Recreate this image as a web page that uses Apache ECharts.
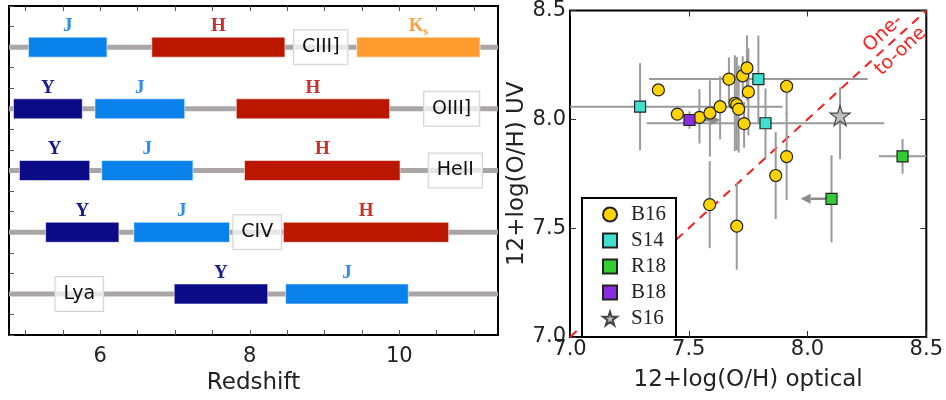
<!DOCTYPE html>
<html>
<head>
<meta charset="utf-8">
<script src="https://cdn.jsdelivr.net/npm/echarts@6/dist/echarts.min.js"></script>
<style>
  html, body { margin: 0; background: #fff; }
  #chart { width: 946px; height: 400px; }
</style>
</head>
<body>
<div id="chart"></div>
<script>
  // ---- left panel: redshift coverage of each line per filter ----
  const lineNames = ['CIII]', 'OIII]', 'HeII', 'CIV', 'Lya'];
  const lineLabelZ = [8.95, 10.7, 10.75, 8.1, 5.72];
  const filterNames = ['Y', 'J', 'H', 'Ks'];
  // [line index, filter index, z start, z end]
  const coverage = [
    [0, 1, 5.04, 6.09], [0, 2, 6.69, 8.47], [0, 3, 9.43, 11.08],
    [1, 0, 4.84, 5.76], [1, 1, 5.93, 7.13], [1, 2, 7.82, 9.87],
    [2, 0, 4.92, 5.86], [2, 1, 6.02, 7.24], [2, 2, 7.93, 10.01],
    [3, 0, 5.27, 6.25], [3, 1, 6.45, 7.73], [3, 2, 8.45, 10.66],
    [4, 0, 6.99, 8.24], [4, 1, 8.48, 10.12]
  ];
  const zTicks = [5, 5.5, 6, 6.5, 7, 7.5, 8, 8.5, 9, 9.5, 10, 10.5, 11];
  const zLabels = [6, 8, 10];

  // ---- right panel: UV vs optical metallicity ----
  const b16X = [7.372, 7.452, 7.545, 7.589, 7.632, 7.669, 7.694, 7.702, 7.710, 7.727, 7.745, 7.751, 7.733, 7.912, 7.912, 7.866, 7.588, 7.702];
  const b16Y = [8.135, 8.024, 8.009, 8.029, 8.058, 8.185, 8.074, 8.067, 8.047, 8.200, 8.236, 8.126, 7.980, 8.152, 7.829, 7.742, 7.608, 7.509];
  const b16YLo = [0, 0, 0.12, 0.2, 0.15, 0.1, 0.22, 0.21, 0.2, 0.1, 0.15, 0.2, 0.11, 0.13, 0.2, 0.2, 0.2, 0.2];
  const b16YHi = [0, 0, 0.13, 0.15, 0.14, 0.1, 0.22, 0.22, 0.2, 0.09, 0.15, 0.2, 0.1, 0.03, 0.2, 0.2, 0.2, 0.2];

  const s14X = [7.295, 7.793, 7.823];
  const s14Y = [8.058, 8.185, 7.982];
  const s14XErr = [0.6, 0.46, 0.5];
  const s14YErr = [0.2, 0.2, 0.16];

  const r18X = [8.40, 8.101];
  const r18Y = [7.830, 7.635];
  const r18XErr = [0.1, 0];
  const r18YErr = [0.08, 0.2];
  const r18Limit = [0, -0.13];

  const b18X = [7.503];
  const b18Y = [7.997];
  const b18YErr = [0.04];
  const b18Limit = [0.13];

  const s16X = [8.137];
  const s16Y = [8.017];
  const s16YLo = [0.2];
  const s16YHi = [0.13];

  const oneToOne = [7.0, 8.5];
  const noteText = ['One-', 'to-one'];
  const noteX = [8.318, 8.392];
  const noteY = [8.394, 8.312];

  const FONT = 'DejaVu Sans';
  const SERIF = 'Liberation Serif';
  const filterColors = ['#0b0b88', '#0a82ec', '#ba1600', '#ff9c2e'];
  const labelColors = ['#1a1a90', '#2a8ef0', '#c8302a', '#ffa040'];
  const errColor = '#9a9a9a';
  const starPath = 'path://M50,2 L61,37 L98,37 L68,59 L79,95 L50,73 L21,95 L32,59 L2,37 L39,37 Z';

  const rowY = i => (lineNames.length - i) * 3;

  // error bar rows: [x, y, xlo, xhi, ylo, yhi]
  const errRows = [];
  b16X.forEach((x, i) => errRows.push([x, b16Y[i], 0, 0, b16YLo[i], b16YHi[i]]));
  s14X.forEach((x, i) => errRows.push([x, s14Y[i], s14XErr[i], s14XErr[i], s14YErr[i], s14YErr[i]]));
  r18X.forEach((x, i) => errRows.push([x, r18Y[i], r18XErr[i], r18XErr[i], r18YErr[i], r18YErr[i]]));
  b18X.forEach((x, i) => errRows.push([x, b18Y[i], 0, 0, b18YErr[i], b18YErr[i]]));
  s16X.forEach((x, i) => errRows.push([x, s16Y[i], 0, 0, s16YLo[i], s16YHi[i]]));

  const arrowRows = [];
  r18X.forEach((x, i) => { if (r18Limit[i]) arrowRows.push([x, r18Y[i], r18Limit[i]]); });
  b18X.forEach((x, i) => { if (b18Limit[i]) arrowRows.push([x, b18Y[i], b18Limit[i]]); });

  const clamp = (v, lo, hi) => Math.min(Math.max(v, lo), hi);

  const chart = echarts.init(document.getElementById('chart'));

  chart.setOption({
    animation: false,
    textStyle: { fontFamily: FONT },
    grid: [
      { left: 9, top: 6, width: 489, height: 332, show: true, borderColor: '#000', borderWidth: 2, backgroundColor: 'transparent' },
      { left: 570, top: 7, width: 375, height: 330, show: true, borderColor: '#000', borderWidth: 2, backgroundColor: 'transparent' }
    ],
    xAxis: [
      {
        gridIndex: 0, type: 'value', min: 4.78, max: 11.32,
        name: 'Redshift', nameLocation: 'middle', nameGap: 34,
        nameTextStyle: { fontSize: 23, color: '#222', fontFamily: FONT },
        axisLine: { show: false },
        axisTick: { inside: true, length: 5, customValues: zTicks, lineStyle: { color: '#555' } },
        axisLabel: { customValues: zLabels, fontSize: 21, color: '#222', margin: 11 },
        splitLine: { show: false }
      },
      {
        gridIndex: 0, type: 'value', min: 4.78, max: 11.32, position: 'top',
        axisLine: { show: false },
        axisTick: { inside: true, length: 5, customValues: zTicks, lineStyle: { color: '#555' } },
        axisLabel: { show: false }, splitLine: { show: false }
      },
      {
        gridIndex: 1, type: 'value', min: 7, max: 8.5, interval: 0.5,
        name: '12+log(O/H) optical', nameLocation: 'middle', nameGap: 32,
        nameTextStyle: { fontSize: 23, color: '#222', fontFamily: FONT },
        axisLine: { show: false },
        axisTick: { inside: true, length: 6, lineStyle: { color: '#333' } },
        axisLabel: { fontSize: 21, color: '#222', margin: 2, formatter: v => v.toFixed(1) },
        splitLine: { show: false }
      },
      {
        gridIndex: 1, type: 'value', min: 7, max: 8.5, interval: 0.5, position: 'top',
        axisLine: { show: false },
        axisTick: { inside: true, length: 6, lineStyle: { color: '#333' } },
        axisLabel: { show: false }, splitLine: { show: false }
      }
    ],
    yAxis: [
      {
        gridIndex: 0, type: 'value', min: 1, max: 17, interval: 1,
        axisLine: { show: false },
        axisTick: { inside: true, length: 5, lineStyle: { color: '#555' } },
        axisLabel: { show: false }, splitLine: { show: false }
      },
      {
        gridIndex: 1, type: 'value', min: 7, max: 8.5, interval: 0.5,
        name: '12+log(O/H) UV', nameLocation: 'middle', nameGap: 29, nameRotate: 90,
        nameTextStyle: { fontSize: 23, color: '#222', fontFamily: FONT },
        axisLine: { show: false },
        axisTick: { inside: true, length: 6, lineStyle: { color: '#333' } },
        axisLabel: { fontSize: 21, color: '#222', margin: 4, formatter: v => v.toFixed(1) },
        splitLine: { show: false }
      },
      {
        gridIndex: 1, type: 'value', min: 7, max: 8.5, interval: 0.5, position: 'right',
        axisLine: { show: false },
        axisTick: { inside: true, length: 6, lineStyle: { color: '#333' } },
        axisLabel: { show: false }, splitLine: { show: false }
      }
    ],
    legend: {
      data: ['B16', 'S14', 'R18', 'B18', 'S16'],
      orient: 'vertical', left: 582, top: 198,
      padding: [6, 10, 8, 20], itemGap: 5, itemWidth: 14, itemHeight: 14,
      backgroundColor: '#fff', borderColor: '#000', borderWidth: 2, borderRadius: 0,
      textStyle: { fontFamily: SERIF, fontSize: 21, color: '#222', lineHeight: 20, padding: [0, 0, 0, 9] }
    },
    series: [
      // grey line for each emission line
      {
        type: 'custom', xAxisIndex: 0, yAxisIndex: 0, z: 1, silent: true,
        data: lineNames.map((n, i) => [i]),
        renderItem: (params, api) => {
          const cs = params.coordSys;
          const y = api.coord([5, rowY(api.value(0))])[1];
          return { type: 'line', shape: { x1: cs.x, y1: y, x2: cs.x + cs.width, y2: y }, style: { stroke: '#aaa6a6', lineWidth: 5 } };
        }
      },
      // filter coverage bars
      {
        type: 'custom', xAxisIndex: 0, yAxisIndex: 0, z: 2, silent: true,
        data: coverage,
        renderItem: (params, api) => {
          const f = api.value(1);
          const y = rowY(api.value(0));
          const p0 = api.coord([api.value(2), y]);
          const p1 = api.coord([api.value(3), y]);
          const h = 20;
          const label = filterNames[f] === 'Ks' ? '{k|K}{s|s}' : '{k|' + filterNames[f] + '}';
          return {
            type: 'group',
            children: [
              { type: 'rect', shape: { x: p0[0], y: p0[1] - h / 2, width: p1[0] - p0[0], height: h },
                style: { fill: filterColors[f], stroke: 'rgba(255,255,255,0.55)', lineWidth: 1 } },
              { type: 'text', x: (p0[0] + p1[0]) / 2, y: p0[1] - 21,
                style: {
                  text: label, align: 'center', verticalAlign: 'middle',
                  rich: {
                    k: { fontFamily: SERIF, fontSize: 19, fontWeight: 'bold', fill: labelColors[f] },
                    s: { fontFamily: SERIF, fontSize: 12, fontWeight: 'bold', fill: labelColors[f], padding: [12, 0, 0, 0] }
                  }
                } }
            ]
          };
        }
      },
      // line name boxes
      {
        type: 'custom', xAxisIndex: 0, yAxisIndex: 0, z: 3, silent: true,
        data: lineNames.map((n, i) => [lineLabelZ[i], i]),
        renderItem: (params, api) => {
          const i = api.value(1);
          const p = api.coord([api.value(0), rowY(i)]);
          return {
            type: 'text', x: p[0], y: p[1],
            style: {
              text: lineNames[i], align: 'center', verticalAlign: 'middle',
              fontFamily: FONT, fontSize: 19, fill: '#111',
              backgroundColor: 'rgba(255,255,255,0.72)', borderColor: '#d4d4d4', borderWidth: 1,
              padding: [8, 8, 7, 8]
            }
          };
        }
      },
      // one-to-one line
      {
        type: 'line', xAxisIndex: 2, yAxisIndex: 1, z: 2, silent: true,
        data: [[oneToOne[0], oneToOne[0]], [oneToOne[1], oneToOne[1]]],
        symbol: 'none',
        lineStyle: { color: '#ff1a1a', width: 2, type: [9, 7] }
      },
      // one-to-one annotation
      {
        type: 'custom', xAxisIndex: 2, yAxisIndex: 1, z: 10, silent: true,
        data: noteText.map((t, i) => [noteX[i], noteY[i], i]),
        renderItem: (params, api) => {
          const p = api.coord([api.value(0), api.value(1)]);
          const o = api.coord([oneToOne[0], oneToOne[0]]);
          const e = api.coord([oneToOne[1], oneToOne[1]]);
          return {
            type: 'text', x: p[0], y: p[1],
            rotation: Math.atan2(o[1] - e[1], e[0] - o[0]),
            style: {
              text: noteText[api.value(2)], align: 'center', verticalAlign: 'middle',
              fontFamily: FONT, fontSize: 19, fill: '#ff2020'
            }
          };
        }
      },
      // error bars
      {
        type: 'custom', xAxisIndex: 2, yAxisIndex: 1, z: 3, silent: true,
        data: errRows,
        renderItem: (params, api) => {
          const x = api.value(0), y = api.value(1);
          const children = [];
          if (api.value(2) || api.value(3)) {
            const a = api.coord([clamp(x - api.value(2), 7, 8.5), y]);
            const b = api.coord([clamp(x + api.value(3), 7, 8.5), y]);
            children.push({ type: 'line', shape: { x1: a[0], y1: a[1], x2: b[0], y2: b[1] }, style: { stroke: errColor, lineWidth: 2 } });
          }
          if (api.value(4) || api.value(5)) {
            const a = api.coord([x, clamp(y - api.value(4), 7, 8.5)]);
            const b = api.coord([x, clamp(y + api.value(5), 7, 8.5)]);
            children.push({ type: 'line', shape: { x1: a[0], y1: a[1], x2: b[0], y2: b[1] }, style: { stroke: errColor, lineWidth: 2 } });
          }
          return { type: 'group', children };
        }
      },
      // limit arrows
      {
        type: 'custom', xAxisIndex: 2, yAxisIndex: 1, z: 3, silent: true,
        data: arrowRows,
        renderItem: (params, api) => {
          const a = api.coord([api.value(0), api.value(1)]);
          const b = api.coord([api.value(0) + api.value(2), api.value(1)]);
          const dir = b[0] > a[0] ? 1 : -1;
          const head = 10;
          return {
            type: 'group',
            children: [
              { type: 'line', shape: { x1: a[0], y1: a[1], x2: b[0] - dir * head, y2: b[1] }, style: { stroke: '#8a8a8a', lineWidth: 2.5 } },
              { type: 'polygon', shape: { points: [[b[0], b[1]], [b[0] - dir * head, b[1] - 5], [b[0] - dir * head, b[1] + 5]] }, style: { fill: '#8a8a8a' } }
            ]
          };
        }
      },
      {
        name: 'B16', type: 'scatter', xAxisIndex: 2, yAxisIndex: 1, z: 5,
        data: b16X.map((x, i) => [x, b16Y[i]]),
        symbol: 'circle', symbolSize: 12,
        itemStyle: { color: '#ffd400', borderColor: '#222', borderWidth: 1.2, opacity: 1 }
      },
      {
        name: 'S14', type: 'scatter', xAxisIndex: 2, yAxisIndex: 1, z: 5,
        data: s14X.map((x, i) => [x, s14Y[i]]),
        symbol: 'rect', symbolSize: 11,
        itemStyle: { color: '#40e0d0', borderColor: '#222', borderWidth: 1.2, opacity: 1 }
      },
      {
        name: 'R18', type: 'scatter', xAxisIndex: 2, yAxisIndex: 1, z: 5,
        data: r18X.map((x, i) => [x, r18Y[i]]),
        symbol: 'rect', symbolSize: 11,
        itemStyle: { color: '#33cc33', borderColor: '#222', borderWidth: 1.2, opacity: 1 }
      },
      {
        name: 'B18', type: 'scatter', xAxisIndex: 2, yAxisIndex: 1, z: 5,
        data: b18X.map((x, i) => [x, b18Y[i]]),
        symbol: 'rect', symbolSize: 11,
        itemStyle: { color: '#8a2be2', borderColor: '#222', borderWidth: 1.2, opacity: 1 }
      },
      {
        name: 'S16', type: 'scatter', xAxisIndex: 2, yAxisIndex: 1, z: 5,
        data: s16X.map((x, i) => [x, s16Y[i]]),
        symbol: starPath, symbolSize: 20,
        itemStyle: { color: '#c0c0c0', borderColor: '#444', borderWidth: 1.2, opacity: 1 }
      }
    ]
  });
</script>
</body>
</html>
